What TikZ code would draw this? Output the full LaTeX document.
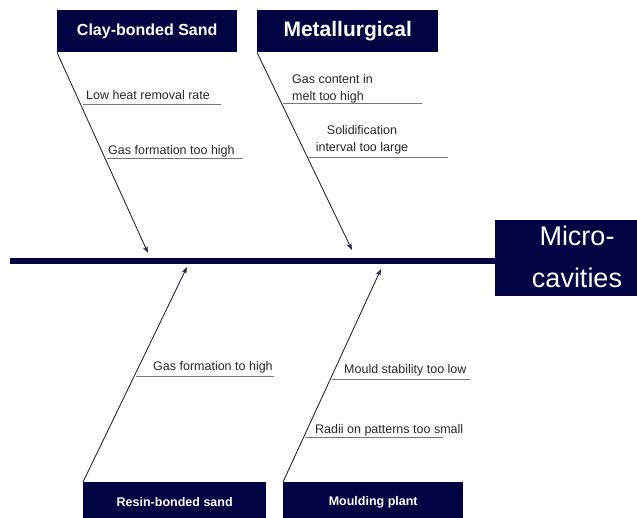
\documentclass[tikz,border=0pt]{standalone}
\usepackage{fontspec}
\setmainfont{Liberation Sans}
\usetikzlibrary{arrows.meta}
\definecolor{navy}{RGB}{0,2,66}
\definecolor{ink}{RGB}{40,40,40}
\definecolor{ulgray}{RGB}{120,120,120}
\begin{document}
\begin{tikzpicture}[x=1pt,y=-1pt,
  catbox/.style={fill=navy,draw=none,inner sep=0pt,anchor=north west,text=white,font=\bfseries},
  bone/.style={draw=navy!60!black!85,line width=0.9pt},
  bonearrow/.style={bone,-{Stealth[length=7pt,width=5pt]}},
  lbl/.style={inner sep=0pt,text=ink,font=\fontsize{12.5}{16.5}\selectfont},
  ul/.style={draw=ulgray,line width=0.7pt}]
\useasboundingbox (0,0) rectangle (637,517);
\fill[white] (0,0) rectangle (637,517);
% spine and head
\node[fill=navy,inner sep=0pt,minimum width=142pt,minimum height=76pt,anchor=north west] (mc) at (495,220) {};
\node[inner sep=0pt,text=white,align=center,font=\fontsize{27}{42}\selectfont,anchor=base] (mctext) at (577,287) {Micro-\\cavities};
\coordinate (tail) at (10,261);
\draw[navy,line width=6pt] (tail) -- (mc.west |- tail);
% category boxes
\node[catbox,minimum width=180pt,minimum height=42pt,font=\bfseries\fontsize{16}{19}\selectfont] (cb) at (57,10) {Clay-bonded Sand};
\node[catbox,minimum width=181pt,minimum height=42pt,font=\bfseries\fontsize{21}{25}\selectfont] (met) at (257,10) {Metallurgical};
\node[catbox,minimum width=183pt,minimum height=40pt,font=\bfseries\fontsize{12.5}{15}\selectfont] (rb) at (83,482) {Resin-bonded sand};
\node[catbox,minimum width=180pt,minimum height=40pt,font=\bfseries\fontsize{12.5}{15}\selectfont] (mp) at (283,482) {Moulding plant};
% arrow tips on spine
\coordinate (t1) at (148,253);
\coordinate (t2) at (352,250);
\coordinate (t3) at (187,267);
\coordinate (t4) at (381,269);
\draw[bonearrow] (cb.south west) -- (t1);
\draw[bonearrow] (met.south west) -- (t2);
\draw[bonearrow] (rb.north west) -- (t3);
\draw[bonearrow] (mp.north west) -- (t4);
% labels
\node[lbl,anchor=base west] (l1) at (86,99) {Low heat removal rate};
\draw[ul] (83,104) -- (221,104);
\node[lbl,anchor=base west] (l2) at (108,154) {Gas formation too high};
\draw[ul] (107,158) -- (243,158);
\node[lbl,anchor=base west,align=left] (l3) at (292,100) {Gas content in\\melt too high};
\draw[ul] (283,103) -- (422,103);
\node[lbl,anchor=base,align=center] (l4) at (362,151) {Solidification\\interval too large};
\draw[ul] (309,157) -- (448,157);
\node[lbl,anchor=base west] (l5) at (153,370) {Gas formation to high};
\draw[ul] (136,376) -- (274,376);
\node[lbl,anchor=base west] (l6) at (344,373) {Mould stability too low};
\draw[ul] (332,379) -- (470,379);
\node[lbl,anchor=base west] (l7) at (315,433) {Radii on patterns too small};
\draw[ul] (305,437) -- (443,437);
\end{tikzpicture}
\end{document}
